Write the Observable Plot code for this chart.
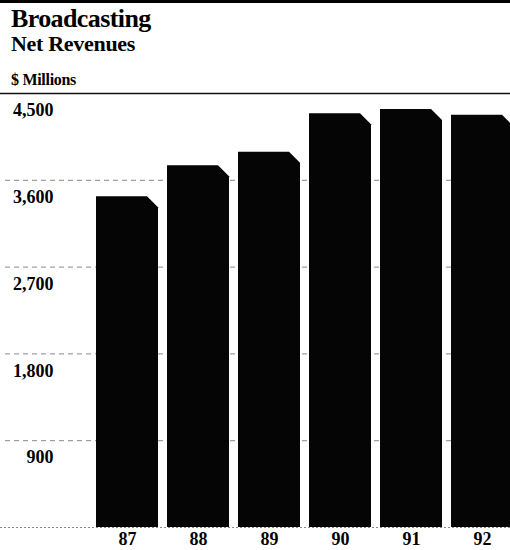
<!DOCTYPE html>
<html><head><meta charset="utf-8">
<script src="https://cdn.jsdelivr.net/npm/d3@7"></script>
<script src="https://cdn.jsdelivr.net/npm/@observablehq/plot@0.6"></script>
<style>
html,body{margin:0;padding:0;background:#fff;overflow:hidden;}
#wrap{position:relative;width:510px;height:550px;font-family:"Liberation Serif","Times New Roman",serif;color:#000;overflow:hidden;}
#wrap svg{position:absolute;left:0;top:0;}
#topbar{position:absolute;left:0;top:0;width:510px;height:3px;background:#000;z-index:2;}
.t{position:absolute;left:11px;font-weight:bold;white-space:nowrap;line-height:1;z-index:2;}
#title{top:6px;font-size:26px;letter-spacing:-0.6px;}
#sub{top:33px;font-size:22px;letter-spacing:-0.3px;}
#unit{top:72px;font-size:16px;letter-spacing:-0.3px;}
</style>
</head><body>
<div id="wrap">
  <div id="chart"></div>
  <div id="topbar"></div>
  <div class="t" id="title">Broadcasting</div>
  <div class="t" id="sub">Net Revenues</div>
  <div class="t" id="unit">$ Millions</div>
</div>
<script>
const years = ["87", "88", "89", "90", "91", "92"];
const revenues = [3430, 3750, 3890, 4290, 4335, 4275];
const yTicks = [900, 1800, 2700, 3600, 4500];

const data = years.map((y, i) => ({year: y, value: revenues[i]}));
const yMax = d3.max(yTicks);

const chart = Plot.plot({
  width: 510,
  height: 550,
  marginTop: 93,
  marginBottom: 23,
  marginLeft: 95,
  marginRight: -4,
  style: {fontFamily: "'Liberation Serif', 'Times New Roman', serif", fontSize: "17px", fontWeight: "bold", color: "#000", background: "transparent"},
  x: {type: "band", domain: years, paddingInner: 0.13, paddingOuter: 0},
  y: {domain: [0, yMax]},
  marks: [
    Plot.ruleY(yTicks.filter(d => d < yMax), {stroke: "#888", strokeDasharray: "5,4", strokeWidth: 1, insetLeft: -90}),
    Plot.ruleY([0], {stroke: "#888", strokeDasharray: "2,2", strokeWidth: 1.2, insetLeft: -95}),
    Plot.ruleY([yMax], {stroke: "#111", strokeWidth: 1.6, insetLeft: -95}),
    Plot.barY(data, {x: "year", y: "value", fill: "#050505"}),
    Plot.axisY(yTicks, {tickSize: 0, tickPadding: 42, dy: 17, tickFormat: d3.format(","), label: null, fontSize: 18}),
    Plot.axisX({tickSize: 0, tickPadding: 5, label: null, fontSize: 18})
  ]
});

// chamfer the top-right corner of each bar
const cut = 11;
d3.select(chart).selectAll("g[aria-label=bar] rect").each(function() {
  const r = d3.select(this);
  const x = +r.attr("x"), y = +r.attr("y"), w = +r.attr("width"), h = +r.attr("height");
  const p = d3.path();
  p.moveTo(x, y + h);
  p.lineTo(x, y);
  p.lineTo(x + w - cut, y);
  p.lineTo(x + w, y + cut);
  p.lineTo(x + w, y + h);
  p.closePath();
  d3.select(this.parentNode).append("path").attr("d", p.toString()).attr("fill", r.attr("fill") || "#050505");
  r.remove();
});

document.getElementById("chart").appendChild(chart);
</script>
</body></html>
